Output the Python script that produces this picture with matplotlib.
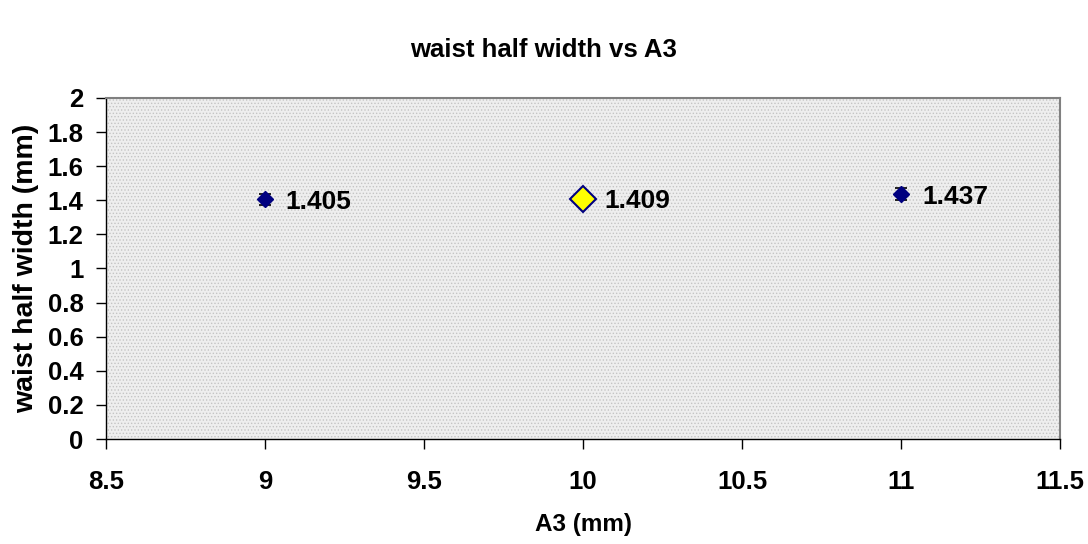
import matplotlib
matplotlib.use("Agg")
import matplotlib.pyplot as plt
from matplotlib.patches import Rectangle

plt.rcParams['font.family'] = ['Liberation Sans', 'DejaVu Sans']
plt.rcParams['font.weight'] = 'bold'
plt.rcParams['hatch.linewidth'] = 0.6

# Measurements: A3 setting vs waist half width
a3_mm = [9, 10, 11]
half_width_mm = [1.405, 1.409, 1.437]
half_width_err = [0.03, 0.03, 0.037]
value_labels = ["1.405", "1.409", "1.437"]

x_ticks = [8.5, 9, 9.5, 10, 10.5, 11, 11.5]
y_ticks = [0, 0.2, 0.4, 0.6, 0.8, 1, 1.2, 1.4, 1.6, 1.8, 2]

fig = plt.figure(figsize=(10.88, 5.44), dpi=100)
ax = fig.add_axes([0.0974, 0.193, 0.877, 0.627])
ax.set_facecolor('#ececec')
# fine dotted fill of the plot area
ax.add_patch(Rectangle((0, 0), 1, 1, transform=ax.transAxes, facecolor='#eeeeee',
                       edgecolor='#c4c4c4', hatch='.....', linewidth=0, zorder=0))

highlight = 1
for i, (x, y, e) in enumerate(zip(a3_mm, half_width_mm, half_width_err)):
    ax.errorbar(x, y, yerr=e, fmt='none', ecolor='black', elinewidth=1.2,
                capsize=4.5, capthick=1.2, zorder=3)
    if i == highlight:
        ax.plot(x, y, marker='D', markersize=13, markerfacecolor='#ffff00',
                markeredgecolor='#000080', markeredgewidth=1.5, zorder=4)
    else:
        ax.plot(x, y, marker='D', markersize=8, markerfacecolor='#000080',
                markeredgecolor='#000080', zorder=4)

for x, y, lab in zip(a3_mm, half_width_mm, value_labels):
    ax.annotate(lab, (x, y), xytext=(15, -2), textcoords='offset points',
                ha='left', va='center', fontsize=19, fontweight='bold')

ax.set_xlim(8.5, 11.5)
ax.set_ylim(0, 2)
ax.set_xticks(x_ticks)
ax.set_xticklabels([f"{v:g}" for v in x_ticks])
ax.set_yticks(y_ticks)
ax.set_yticklabels([f"{v:g}" for v in y_ticks])
ax.tick_params(axis='both', labelsize=18.5, direction='out', length=7, width=1)
ax.tick_params(axis='x', pad=15)
ax.tick_params(axis='y', pad=9)

for side in ['top', 'right']:
    ax.spines[side].set_color('#808080')
    ax.spines[side].set_linewidth(1.5)
for side in ['left', 'bottom']:
    ax.spines[side].set_color('black')
    ax.spines[side].set_linewidth(1)

ax.set_xlabel('A3 (mm)', fontsize=17.5, fontweight='bold', labelpad=14)
ax.set_ylabel('waist half width (mm)', fontsize=20.5, fontweight='bold', labelpad=6)
fig.text(0.5, 0.908, 'waist half width vs A3', ha='center', va='center',
         fontsize=18.5, fontweight='bold')

fig.savefig('out.png', dpi=100)
